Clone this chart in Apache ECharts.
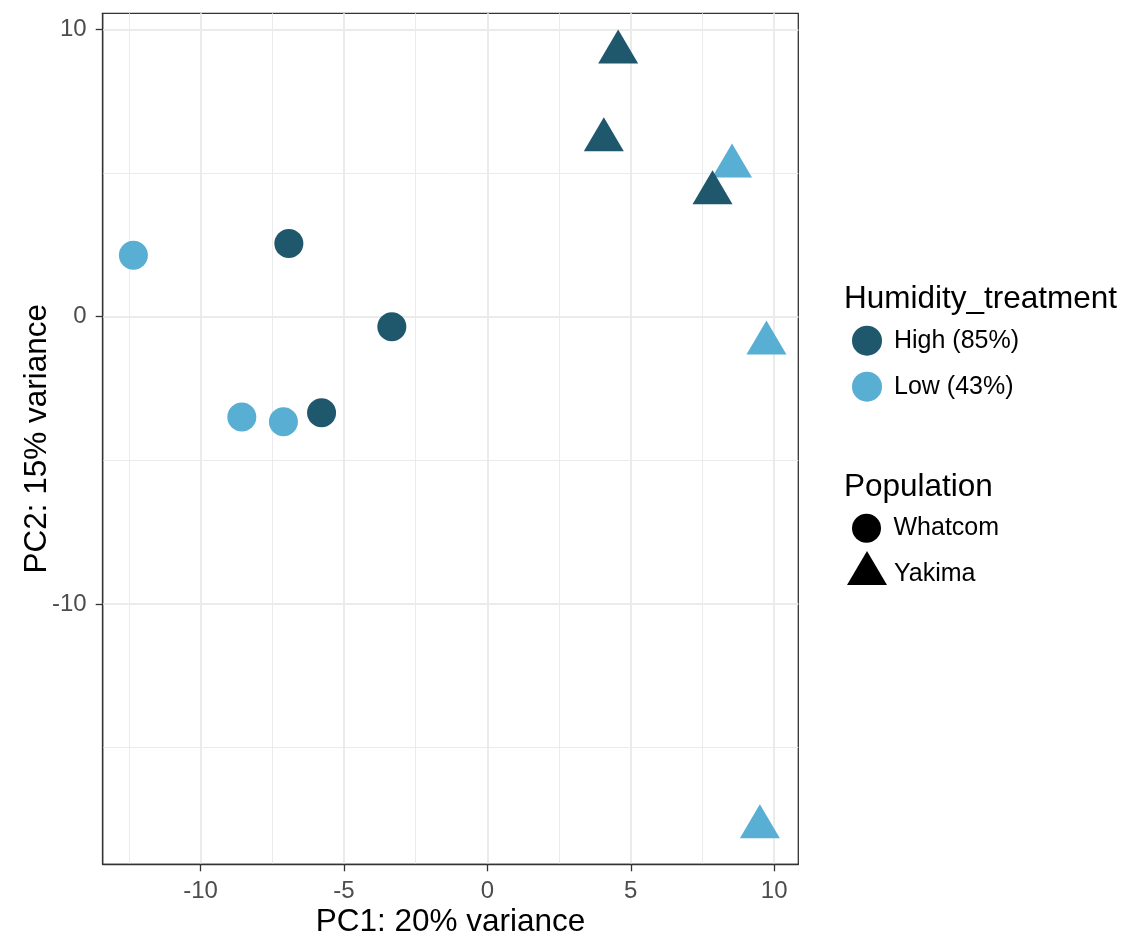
<!DOCTYPE html>
<html>
<head>
<meta charset="utf-8">
<script src="https://cdn.jsdelivr.net/npm/echarts@6/dist/echarts.min.js"></script>
<style>
  html, body { margin: 0; padding: 0; background: #ffffff; }
  #chart { width: 1126px; height: 942px; }
</style>
</head>
<body>
<div id="chart"></div>
<script>
// PCA scores, split by humidity treatment (colour) and population (shape)
const highWhatcomPC1 = [-6.92, -3.33, -5.78];
const highWhatcomPC2 = [2.55, -0.35, -3.34];
const lowWhatcomPC1  = [-12.34, -8.56, -7.11];
const lowWhatcomPC2  = [2.14, -3.49, -3.66];
const lowYakimaPC1   = [8.53, 9.73, 9.50];
const lowYakimaPC2   = [5.24, -0.92, -17.76];
const highYakimaPC1  = [4.56, 4.06, 7.85];
const highYakimaPC2  = [9.21, 6.15, 4.31];

// tick positions on each axis
const xMajorTicks = [-10, -5, 0, 5, 10];
const xMinorTicks = [-12.5, -7.5, -2.5, 2.5, 7.5];
const yMajorTicks = [-10, 0, 10];
const yMinorTicks = [-15, -5, 5];

const treatments  = ['High (85%)', 'Low (43%)'];
const populations = ['Whatcom', 'Yakima'];

const xTitle = 'PC1: 20% variance';
const yTitle = 'PC2: 15% variance';
const colourTitle = 'Humidity_treatment';
const shapeTitle = 'Population';

const DARK = '#1f576c';
const LIGHT = '#58aed3';
const FONT = '"Liberation Sans", Arial, sans-serif';

const zip = (xs, ys) => xs.map((x, i) => [x, ys[i]]);

const X_RANGE = { min: -13.41, max: 10.84 };
const Y_RANGE = { min: -19.06, max: 10.56 };

const CIRCLE_SIZE = 29;
const TRI_SIZE = [40, 34];
// put the triangle's centroid (not its bounding-box centre) on the data point
const TRI_OFFSET = [0, -TRI_SIZE[1] / 6];

function valueAxis(range, major, minor, title, position, nameGap, labelMargin) {
  return [
    {
      type: 'value',
      gridIndex: 0,
      position: position,
      min: range.min,
      max: range.max,
      axisLine: { show: true, onZero: false, lineStyle: { color: '#333333', width: 1.3 } },
      axisTick: {
        show: true, inside: false, customValues: major, length: 7,
        lineStyle: { color: '#333333', width: 1.3 }
      },
      axisLabel: {
        show: true, customValues: major, fontSize: 24, color: '#4d4d4d',
        fontFamily: FONT, margin: labelMargin
      },
      splitLine: { show: true, lineStyle: { color: '#ebebeb', width: 2 } },
      minorTick: { show: false },
      minorSplitLine: { show: false },
      name: title,
      nameLocation: 'middle',
      nameGap: nameGap,
      nameMoveOverlap: false,
      nameTextStyle: { fontSize: 31.5, color: '#000000', fontFamily: FONT }
    },
    {
      type: 'value',
      gridIndex: 0,
      position: position,
      min: range.min,
      max: range.max,
      axisLine: { show: false, onZero: false },
      axisTick: { show: false, customValues: minor },
      axisLabel: { show: false },
      splitLine: { show: true, lineStyle: { color: '#ebebeb', width: 1 } }
    }
  ];
}

const xAxes = valueAxis(X_RANGE, xMajorTicks, xMinorTicks, xTitle, 'bottom', 42, 15);
const yAxes = valueAxis(Y_RANGE, yMajorTicks, yMinorTicks, yTitle, 'left', 49, 16);

const legendText = { fontSize: 25, color: '#000000', fontFamily: FONT };
const titleText = { fontSize: 31.5, fontWeight: 'normal', color: '#000000', fontFamily: FONT };

const option = {
  animation: false,
  backgroundColor: '#ffffff',
  textStyle: { fontFamily: FONT },
  grid: {
    left: 102.7, right: 327.7, top: 13.3, bottom: 77.7,
    show: true, backgroundColor: '#ffffff', borderColor: '#333333', borderWidth: 1.3,
    containLabel: false, outerBoundsMode: 'none'
  },
  title: [
    { text: colourTitle, left: 844, top: 283, padding: 0, textStyle: titleText },
    { text: shapeTitle, left: 844, top: 471, padding: 0, textStyle: titleText }
  ],
  legend: [
    {
      data: treatments.map(n => ({ name: n, icon: 'circle' })),
      orient: 'vertical', left: 852, top: 325.7, padding: 0,
      itemWidth: 44, itemHeight: 30, itemGap: 16,
      textStyle: legendText, selectedMode: false
    },
    {
      data: [{ name: populations[0], icon: 'circle' }],
      orient: 'vertical', left: 852, top: 513.8, padding: 0,
      itemWidth: 44, itemHeight: 29,
      textStyle: legendText, selectedMode: false
    },
    {
      // triangle key sits in the upper part of its box so its centroid lines up with the text
      data: [{ name: populations[1], icon: 'path://M0,0 M44,47 M22,0 L42,34 L2,34 Z' }],
      orient: 'vertical', left: 845, top: 551, padding: 0,
      itemWidth: 44, itemHeight: 47,
      textStyle: legendText, selectedMode: false
    }
  ],
  xAxis: xAxes,
  yAxis: yAxes,
  series: [
    {
      name: treatments[1], type: 'scatter', data: zip(lowWhatcomPC1, lowWhatcomPC2),
      symbol: 'circle', symbolSize: CIRCLE_SIZE,
      itemStyle: { color: LIGHT, opacity: 1 }, emphasis: { disabled: true }
    },
    {
      name: treatments[0], type: 'scatter', data: zip(highWhatcomPC1, highWhatcomPC2),
      symbol: 'circle', symbolSize: CIRCLE_SIZE,
      itemStyle: { color: DARK, opacity: 1 }, emphasis: { disabled: true }
    },
    {
      name: treatments[1], type: 'scatter', data: zip(lowYakimaPC1, lowYakimaPC2),
      symbol: 'triangle', symbolSize: TRI_SIZE, symbolOffset: TRI_OFFSET,
      itemStyle: { color: LIGHT, opacity: 1 }, emphasis: { disabled: true }
    },
    {
      name: treatments[0], type: 'scatter', data: zip(highYakimaPC1, highYakimaPC2),
      symbol: 'triangle', symbolSize: TRI_SIZE, symbolOffset: TRI_OFFSET,
      itemStyle: { color: DARK, opacity: 1 }, emphasis: { disabled: true }
    },
    // shape-only keys for the population legend
    { name: populations[0], type: 'scatter', data: [], itemStyle: { color: '#000000', opacity: 1 } },
    { name: populations[1], type: 'scatter', data: [], itemStyle: { color: '#000000', opacity: 1 } }
  ]
};

const chart = echarts.init(document.getElementById('chart'), null, { renderer: 'canvas' });
chart.setOption(option);
</script>
</body>
</html>
